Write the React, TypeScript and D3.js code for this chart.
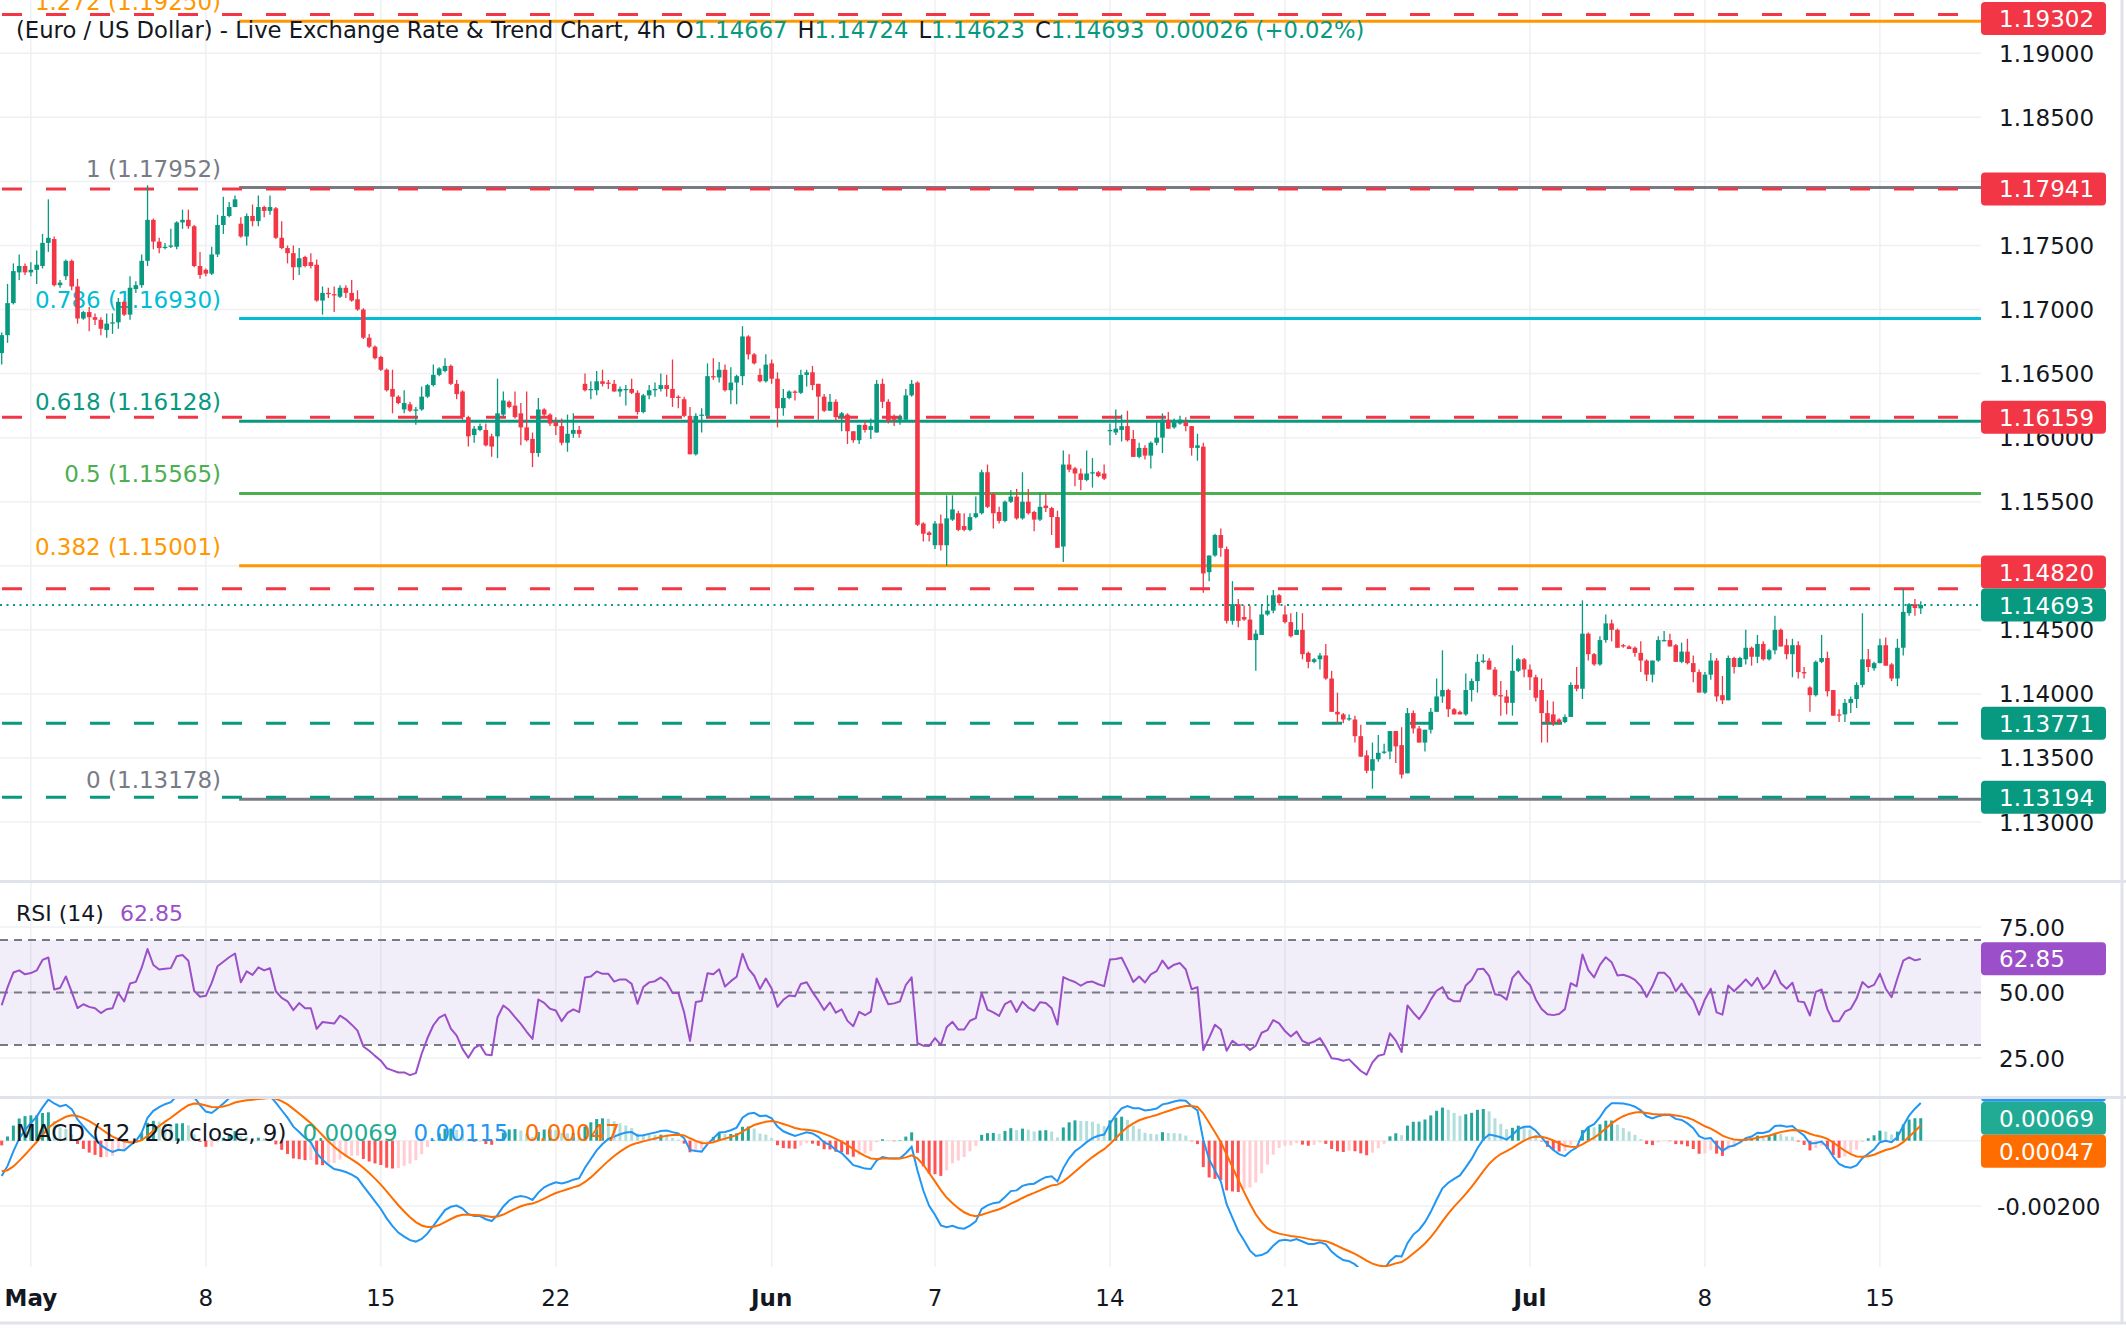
import React from 'react';
import * as d3 from 'd3';

type Bar = [number, number, number, number]; // open, high, low, close

// 4h candles, split by month (first five bars are the end of April)
const candlesMay: Bar[] = [
  [1.1666,1.1682,1.1657,1.1680],[1.1680,1.1720,1.1674,1.1705],[1.1705,1.1736,1.1704,1.1730],[1.1729,1.1743,1.1723,1.1734],
  [1.1734,1.1736,1.1727,1.1729],[1.1729,1.1737,1.1726,1.1731],[1.1731,1.1746,1.1720,1.1735],[1.1734,1.1759,1.1732,1.1752],
  [1.1752,1.1786,1.1745,1.1756],[1.1755,1.1757,1.1718,1.1719],[1.1719,1.1723,1.1717,1.1721],[1.1726,1.1739,1.1723,1.1738],
  [1.1738,1.1739,1.1715,1.1718],[1.1718,1.1724,1.1689,1.1693],[1.1693,1.1699,1.1692,1.1698],[1.1698,1.1702,1.1683,1.1694],
  [1.1694,1.1697,1.1688,1.1692],[1.1692,1.1694,1.1680,1.1685],[1.1684,1.1697,1.1678,1.1689],[1.1689,1.1697,1.1681,1.1690],
  [1.1690,1.1709,1.1685,1.1706],[1.1706,1.1707,1.1695,1.1696],[1.1696,1.1726,1.1692,1.1717],[1.1716,1.1722,1.1713,1.1719],
  [1.1719,1.1743,1.1717,1.1738],[1.1738,1.1797,1.1734,1.1770],[1.1770,1.1771,1.1747,1.1753],[1.1753,1.1756,1.1744,1.1748],
  [1.1748,1.1752,1.1747,1.1749],[1.1749,1.1763,1.1748,1.1750],[1.1749,1.1769,1.1747,1.1768],[1.1768,1.1778,1.1763,1.1770],
  [1.1770,1.1778,1.1763,1.1765],[1.1765,1.1766,1.1733,1.1734],[1.1734,1.1745,1.1724,1.1727],[1.1731,1.1732,1.1726,1.1728],
  [1.1728,1.1749,1.1727,1.1743],[1.1743,1.1774,1.1741,1.1766],[1.1766,1.1788,1.1759,1.1773],[1.1773,1.1784,1.1772,1.1780],
  [1.1780,1.1789,1.1780,1.1786],[1.1767,1.1772,1.1756,1.1757],[1.1757,1.1775,1.1750,1.1773],[1.1773,1.1782,1.1765,1.1769],
  [1.1769,1.1789,1.1765,1.1780],[1.1780,1.1781,1.1772,1.1777],[1.1777,1.1789,1.1774,1.1780],[1.1779,1.1780,1.1755,1.1756],
  [1.1756,1.1769,1.1747,1.1748],[1.1748,1.1750,1.1736,1.1744],[1.1744,1.1750,1.1723,1.1733],[1.1733,1.1748,1.1727,1.1740],
  [1.1741,1.1742,1.1733,1.1734],[1.1737,1.1744,1.1732,1.1734],[1.1735,1.1739,1.1706,1.1707],[1.1707,1.1718,1.1696,1.1713],
  [1.1713,1.1717,1.1709,1.1712],[1.1712,1.1718,1.1698,1.1711],[1.1710,1.1719,1.1709,1.1717],[1.1717,1.1719,1.1709,1.1713],
  [1.1713,1.1723,1.1706,1.1707],[1.1708,1.1715,1.1699,1.1700],[1.1700,1.1701,1.1677,1.1678],[1.1678,1.1681,1.1670,1.1671],
  [1.1671,1.1672,1.1661,1.1662],[1.1663,1.1664,1.1652,1.1653],[1.1653,1.1654,1.1636,1.1637],[1.1638,1.1653,1.1619,1.1632],
  [1.1632,1.1633,1.1626,1.1627],[1.1622,1.1637,1.1619,1.1627],[1.1626,1.1628,1.1620,1.1621],[1.1621,1.1624,1.1610,1.1622],
  [1.1622,1.1640,1.1621,1.1632],[1.1632,1.1642,1.1631,1.1641],[1.1641,1.1657,1.1640,1.1649],[1.1649,1.1655,1.1648,1.1654],
  [1.1652,1.1662,1.1651,1.1656],[1.1656,1.1657,1.1641,1.1642],[1.1642,1.1645,1.1630,1.1634],[1.1636,1.1637,1.1614,1.1616],
  [1.1616,1.1617,1.1593,1.1601],[1.1602,1.1609,1.1596,1.1607],[1.1606,1.1611,1.1605,1.1609],[1.1606,1.1611,1.1593,1.1594],
  [1.1601,1.1603,1.1585,1.1593],[1.1601,1.1646,1.1584,1.1619],[1.1618,1.1636,1.1616,1.1629],[1.1628,1.1629,1.1623,1.1624],
  [1.1625,1.1636,1.1615,1.1616],[1.1619,1.1627,1.1594,1.1608],[1.1608,1.1636,1.1597,1.1598],[1.1599,1.1604,1.1577,1.1588],
  [1.1588,1.1631,1.1585,1.1622],[1.1622,1.1623,1.1616,1.1618],[1.1618,1.1619,1.1609,1.1611],[1.1612,1.1616,1.1602,1.1609],
  [1.1609,1.1615,1.1594,1.1596],[1.1596,1.1618,1.1589,1.1603],[1.1603,1.1619,1.1600,1.1606],[1.1606,1.1609,1.1600,1.1603],
  [1.1642,1.1650,1.1636,1.1637],[1.1637,1.1644,1.1630,1.1638],[1.1637,1.1652,1.1633,1.1644],[1.1644,1.1653,1.1640,1.1642],
  [1.1643,1.1645,1.1638,1.1642],[1.1642,1.1645,1.1636,1.1636],[1.1636,1.1640,1.1632,1.1638],[1.1637,1.1641,1.1625,1.1638],
  [1.1638,1.1646,1.1634,1.1635],[1.1635,1.1637,1.1618,1.1620],[1.1620,1.1634,1.1619,1.1633],[1.1633,1.1641,1.1630,1.1637],
  [1.1637,1.1643,1.1632,1.1638],[1.1638,1.1650,1.1636,1.1641],[1.1641,1.1649,1.1632,1.1638],[1.1638,1.1661,1.1624,1.1631],
  [1.1632,1.1633,1.1623,1.1631],[1.1630,1.1632,1.1616,1.1617],[1.1617,1.1624,1.1587,1.1587],[1.1587,1.1619,1.1586,1.1617],
  [1.1617,1.1623,1.1604,1.1618],[1.1617,1.1658,1.1615,1.1648],[1.1648,1.1662,1.1645,1.1647],[1.1647,1.1659,1.1643,1.1653],
  [1.1653,1.1657,1.1636,1.1637],[1.1637,1.1655,1.1626,1.1643],[1.1643,1.1649,1.1626,1.1648],[1.1648,1.1687,1.1641,1.1679],
  [1.1679,1.1680,1.1661,1.1665],[1.1665,1.1666,1.1657,1.1658],[1.1649,1.1654,1.1643,1.1644],[1.1644,1.1665,1.1643,1.1657],
];

const candlesJun: Bar[] = [
  [1.1658,1.1661,1.1642,1.1646],[1.1646,1.1651,1.1608,1.1623],[1.1623,1.1638,1.1617,1.1631],[1.1631,1.1637,1.1630,1.1636],
  [1.1636,1.1637,1.1629,1.1635],[1.1635,1.1653,1.1634,1.1649],[1.1649,1.1653,1.1640,1.1651],[1.1651,1.1656,1.1637,1.1641],
  [1.1642,1.1642,1.1614,1.1632],[1.1632,1.1634,1.1620,1.1621],[1.1621,1.1634,1.1621,1.1628],[1.1628,1.1630,1.1613,1.1616],
  [1.1616,1.1620,1.1605,1.1619],[1.1618,1.1619,1.1595,1.1605],[1.1605,1.1605,1.1596,1.1598],[1.1598,1.1610,1.1595,1.1610],
  [1.1610,1.1613,1.1604,1.1606],[1.1606,1.1615,1.1599,1.1609],[1.1604,1.1645,1.1604,1.1642],[1.1642,1.1646,1.1623,1.1628],
  [1.1628,1.1630,1.1611,1.1613],[1.1616,1.1618,1.1609,1.1614],[1.1614,1.1618,1.1610,1.1616],[1.1614,1.1638,1.1614,1.1633],
  [1.1633,1.1645,1.1632,1.1642],[1.1643,1.1644,1.1531,1.1532],[1.1533,1.1534,1.1519,1.1525],[1.1526,1.1527,1.1519,1.1524],
  [1.1516,1.1535,1.1513,1.1533],[1.1533,1.1540,1.1512,1.1516],[1.1516,1.1555,1.1500,1.1537],[1.1536,1.1555,1.1535,1.1544],
  [1.1541,1.1543,1.1527,1.1528],[1.1531,1.1541,1.1527,1.1528],[1.1528,1.1541,1.1527,1.1538],[1.1538,1.1554,1.1537,1.1541],
  [1.1541,1.1575,1.1540,1.1573],[1.1573,1.1579,1.1545,1.1546],[1.1556,1.1557,1.1529,1.1541],[1.1542,1.1546,1.1533,1.1535],
  [1.1535,1.1551,1.1534,1.1550],[1.1550,1.1559,1.1549,1.1554],[1.1554,1.1560,1.1536,1.1537],[1.1537,1.1573,1.1536,1.1550],
  [1.1550,1.1560,1.1540,1.1541],[1.1542,1.1543,1.1527,1.1536],[1.1536,1.1557,1.1535,1.1546],[1.1547,1.1556,1.1542,1.1545],
  [1.1545,1.1546,1.1524,1.1538],[1.1538,1.1543,1.1514,1.1514],[1.1515,1.1590,1.1503,1.1579],[1.1579,1.1587,1.1573,1.1575],
  [1.1576,1.1577,1.1562,1.1572],[1.1572,1.1576,1.1559,1.1567],[1.1567,1.1590,1.1566,1.1572],[1.1572,1.1584,1.1561,1.1573],
  [1.1573,1.1574,1.1569,1.1570],[1.1572,1.1579,1.1567,1.1568],[1.1605,1.1611,1.1594,1.1606],[1.1604,1.1622,1.1602,1.1607],
  [1.1606,1.1618,1.1597,1.1609],[1.1609,1.1621,1.1597,1.1598],[1.1599,1.1606,1.1585,1.1585],[1.1585,1.1596,1.1584,1.1592],
  [1.1592,1.1594,1.1583,1.1586],[1.1586,1.1597,1.1576,1.1596],[1.1596,1.1613,1.1594,1.1600],[1.1600,1.1619,1.1588,1.1614],
  [1.1614,1.1620,1.1607,1.1607],[1.1608,1.1615,1.1607,1.1612],[1.1611,1.1617,1.1610,1.1614],[1.1612,1.1616,1.1605,1.1609],
  [1.1609,1.1609,1.1586,1.1592],[1.1592,1.1603,1.1582,1.1594],[1.1593,1.1596,1.1479,1.1494],[1.1495,1.1508,1.1488,1.1508],
  [1.1508,1.1525,1.1507,1.1524],[1.1524,1.1529,1.1507,1.1514],[1.1513,1.1515,1.1455,1.1457],[1.1457,1.1488,1.1454,1.1470],
  [1.1470,1.1474,1.1452,1.1457],[1.1460,1.1469,1.1457,1.1458],[1.1458,1.1469,1.1442,1.1442],[1.1442,1.1450,1.1418,1.1447],
  [1.1446,1.1469,1.1446,1.1462],[1.1462,1.1477,1.1461,1.1465],[1.1465,1.1481,1.1463,1.1477],[1.1477,1.1478,1.1469,1.1471],
  [1.1462,1.1469,1.1455,1.1456],[1.1456,1.1463,1.1444,1.1445],[1.1446,1.1464,1.1446,1.1450],[1.1450,1.1463,1.1427,1.1431],
  [1.1432,1.1433,1.1420,1.1425],[1.1425,1.1428,1.1424,1.1427],[1.1427,1.1432,1.1419,1.1430],[1.1430,1.1439,1.1411,1.1412],
  [1.1412,1.1418,1.1386,1.1386],[1.1386,1.1401,1.1377,1.1384],[1.1384,1.1385,1.1377,1.1380],[1.1380,1.1384,1.1379,1.1381],
  [1.1380,1.1383,1.1362,1.1367],[1.1367,1.1376,1.1351,1.1351],[1.1352,1.1356,1.1338,1.1340],[1.1340,1.1362,1.1326,1.1349],
  [1.1349,1.1368,1.1347,1.1354],[1.1354,1.1361,1.1353,1.1355],[1.1355,1.1371,1.1349,1.1371],[1.1371,1.1371,1.1346,1.1359],
  [1.1360,1.1374,1.1334,1.1337],[1.1338,1.1389,1.1338,1.1385],[1.1385,1.1387,1.1369,1.1373],[1.1373,1.1375,1.1362,1.1362],
  [1.1362,1.1372,1.1355,1.1372],[1.1372,1.1389,1.1369,1.1386],[1.1386,1.1412,1.1386,1.1398],[1.1398,1.1434,1.1393,1.1403],
  [1.1403,1.1404,1.1382,1.1388],[1.1388,1.1389,1.1384,1.1384],[1.1386,1.1387,1.1384,1.1384],[1.1384,1.1416,1.1383,1.1403],
  [1.1403,1.1412,1.1394,1.1410],[1.1410,1.1431,1.1401,1.1425],[1.1425,1.1431,1.1424,1.1426],[1.1426,1.1428,1.1419,1.1419],
  [1.1419,1.1421,1.1398,1.1399],[1.1399,1.1410,1.1383,1.1398],[1.1398,1.1403,1.1384,1.1393],[1.1393,1.1438,1.1383,1.1418],
  [1.1418,1.1428,1.1417,1.1427],[1.1427,1.1428,1.1413,1.1419],
];

const candlesJul: Bar[] = [
  [1.1419,1.1423,1.1403,1.1413],[1.1413,1.1415,1.1394,1.1397],[1.1403,1.1412,1.1362,1.1385],[1.1385,1.1395,1.1362,1.1378],
  [1.1384,1.1394,1.1375,1.1377],[1.1380,1.1381,1.1376,1.1378],[1.1378,1.1384,1.1377,1.1382],[1.1382,1.1409,1.1382,1.1407],
  [1.1407,1.1421,1.1402,1.1404],[1.1404,1.1473,1.1396,1.1447],[1.1447,1.1448,1.1426,1.1431],[1.1431,1.1432,1.1422,1.1423],
  [1.1423,1.1445,1.1422,1.1442],[1.1442,1.1462,1.1440,1.1455],[1.1455,1.1458,1.1441,1.1450],[1.1450,1.1451,1.1436,1.1436],
  [1.1438,1.1439,1.1436,1.1437],[1.1437,1.1438,1.1435,1.1435],[1.1436,1.1437,1.1429,1.1432],[1.1432,1.1441,1.1417,1.1426],
  [1.1426,1.1427,1.1410,1.1415],[1.1415,1.1426,1.1409,1.1426],[1.1426,1.1445,1.1425,1.1442],[1.1441,1.1449,1.1441,1.1442],
  [1.1442,1.1447,1.1437,1.1437],[1.1438,1.1439,1.1425,1.1425],[1.1425,1.1440,1.1424,1.1433],[1.1433,1.1443,1.1423,1.1424],
  [1.1424,1.1430,1.1409,1.1417],[1.1417,1.1419,1.1401,1.1401],[1.1401,1.1417,1.1400,1.1415],[1.1415,1.1432,1.1411,1.1426],
  [1.1426,1.1428,1.1394,1.1398],[1.1399,1.1414,1.1392,1.1395],[1.1395,1.1430,1.1395,1.1428],[1.1428,1.1429,1.1416,1.1421],
  [1.1421,1.1429,1.1421,1.1428],[1.1427,1.1450,1.1423,1.1436],[1.1436,1.1437,1.1422,1.1429],[1.1429,1.1446,1.1424,1.1439],
  [1.1439,1.1441,1.1426,1.1427],[1.1427,1.1435,1.1426,1.1434],[1.1434,1.1461,1.1431,1.1450],[1.1450,1.1451,1.1437,1.1437],
  [1.1438,1.1443,1.1427,1.1431],[1.1431,1.1443,1.1413,1.1438],[1.1438,1.1441,1.1412,1.1417],[1.1417,1.1421,1.1412,1.1416],
  [1.1405,1.1406,1.1386,1.1399],[1.1399,1.1426,1.1398,1.1425],[1.1425,1.1446,1.1424,1.1428],[1.1428,1.1433,1.1398,1.1402],
  [1.1403,1.1403,1.1383,1.1383],[1.1384,1.1388,1.1378,1.1383],[1.1384,1.1396,1.1378,1.1393],[1.1393,1.1398,1.1385,1.1396],
  [1.1396,1.1409,1.1389,1.1407],[1.1407,1.1463,1.1405,1.1427],[1.1427,1.1435,1.1417,1.1421],[1.1420,1.1425,1.1418,1.1424],
  [1.1424,1.1443,1.1424,1.1438],[1.1438,1.1444,1.1422,1.1422],[1.1423,1.1424,1.1410,1.1412],[1.1412,1.1443,1.1406,1.1436],
  [1.1436,1.1482,1.1430,1.1464],[1.1463,1.1471,1.1461,1.1470],[1.1470,1.1474,1.1461,1.1467],[1.14667,1.14724,1.14623,1.14693],
];

// date axis
const tickBars = [5, 35, 65, 95, 132, 160, 190, 220, 262, 292, 322];
const tickLabels = ['May', '8', '15', '22', 'Jun', '7', '14', '21', 'Jul', '8', '15'];
const monthLabels = ['May', 'Jun', 'Jul'];

// price axis
const priceTicks = [1.13, 1.135, 1.14, 1.145, 1.15, 1.155, 1.16, 1.165, 1.17, 1.175, 1.18, 1.185, 1.19];
const rsiTicks = [75, 50, 25];
const rsiLevels = [70, 50, 30];
const macdTicks = [-0.002];

// fibonacci retracement
const fibRatios = ['1.272', '1', '0.786', '0.618', '0.5', '0.382', '0'];
const fibPrices = [1.1925, 1.17952, 1.1693, 1.16128, 1.15565, 1.15001, 1.13178];
const fibStartBar = 40.7;

// horizontal levels
const resistanceLevels = [1.19302, 1.17941, 1.16159, 1.1482];
const supportLevels = [1.13771, 1.13194];

// legend values
const lastOHLC = ['1.14667', '1.14724', '1.14623', '1.14693'];
const lastChange = '0.00026 (+0.02%)';
const lastPrice = 1.14693;
const rsiLast = 62.85;
const macdLegend = [0.00069, 0.00115, 0.00047]; // histogram, macd, signal

// indicator state before the first visible bar
const priorClose = 1.1666;
const rsiSeed = { gain: 0.00055, loss: 0.0008 };
const macdSeed = { fast: 1.1676, slow: 1.1688, signal: -0.0009 };

const candles: Bar[] = [...candlesMay, ...candlesJun, ...candlesJul];

const UP = '#089981';
const DOWN = '#f23645';
const fibColors = ['#ff9800', '#787b86', '#00bcd4', '#089981', '#4caf50', '#ff9800', '#787b86'];
const FONT = '"DejaVu Sans", "Liberation Sans", sans-serif';
const INK = '#131722';
const GRID = '#eef0f3';
const RSI_C = '#9b4fc8';
const MACD_C = '#2196f3';
const SIG_C = '#ff6d00';
const HIST_C = '#22ab94';

function computeRsi(cl: number[]) {
  let g = rsiSeed.gain, l = rsiSeed.loss, p = priorClose;
  return cl.map(c => {
    const d = c - p;
    g = (g * 13 + Math.max(d, 0)) / 14;
    l = (l * 13 + Math.max(-d, 0)) / 14;
    p = c;
    return 100 - 100 / (1 + g / l);
  });
}

function computeMacd(cl: number[]) {
  const kf = 2 / 13, ks = 2 / 27, kg = 2 / 10;
  let f = macdSeed.fast, s = macdSeed.slow, sig = macdSeed.signal;
  const macd: number[] = [], signal: number[] = [], hist: number[] = [];
  cl.forEach(c => {
    f = c * kf + f * (1 - kf);
    s = c * ks + s * (1 - ks);
    const m = f - s;
    sig = m * kg + sig * (1 - kg);
    macd.push(m); signal.push(sig); hist.push(m - sig);
  });
  return { macd, signal, hist };
}

const PLOT_R = 1981;
const TAG_H = 33;

function Tag({ y, color, text }: { y: number; color: string; text: string }) {
  return (
    <g>
      <rect x={1981} y={y - TAG_H / 2} width={125} height={TAG_H} rx={4} fill={color} />
      <text x={1999} y={y + 8.5} fill="#fff" fontSize={23} fontFamily={FONT}>{text}</text>
    </g>
  );
}

export default function App() {
  const n = candles.length;
  const x = d3.scaleLinear().domain([0, n - 1]).range([1.7, 1.7 + (n - 1) * 5.833]);
  const yP = d3.scaleLinear().domain([1.13, 1.19]).range([822, 53.3]);
  const yR = d3.scaleLinear().domain([25, 75]).range([1058, 927]);
  const yM = d3.scaleLinear().domain([-0.002, 0]).range([1206, 1140.7]);

  const closes = candles.map(c => c[3]);
  const rsi = computeRsi(closes);
  const { macd, signal, hist } = computeMacd(closes);

  const rsiPath = d3.line<number>().x((_, i) => x(i)).y(d => yR(d))(rsi) || '';
  const macdPath = d3.line<number>().x((_, i) => x(i)).y(d => yM(d))(macd) || '';
  const sigPath = d3.line<number>().x((_, i) => x(i)).y(d => yM(d))(signal) || '';

  const histColor = (i: number) => {
    const h = hist[i], p = i > 0 ? hist[i - 1] : h;
    if (h >= 0) return h >= p ? '#26a69a' : '#b2dfdb';
    return h <= p ? '#ff5252' : '#ffcdd2';
  };

  const bw = 4.6;
  const fibX0 = x(fibStartBar);

  // price axis tags, pushed apart from the last-price tag when they overlap
  const lastY = yP(lastPrice);
  const levelTags = [
    ...resistanceLevels.map(p => ({ p, color: DOWN })),
    ...supportLevels.map(p => ({ p, color: UP })),
  ].map(t => {
    let y = yP(t.p);
    if (Math.abs(y - lastY) < TAG_H) y = y < lastY ? lastY - TAG_H : lastY + TAG_H;
    y = Math.max(y, 2 + TAG_H / 2);
    return { ...t, y };
  });
  const tagCenters = [lastY, ...levelTags.map(t => t.y)];
  // axis labels that sit fully under a tag are not drawn (hidden in the original too)
  const visibleTicks = priceTicks.filter(p => tagCenters.every(c => Math.abs(c - yP(p)) > 14));

  const histY = yM(macdLegend[0]);
  const macdTagY = Math.min(yM(macdLegend[1]), histY - TAG_H);
  const sigTagY = Math.max(yM(macdLegend[2]), histY + TAG_H);

  return (
    <svg width={2126} height={1344} style={{ position: 'absolute', left: 0, top: 0, background: '#fff' }} fontFamily={FONT}>
      <defs>
        <clipPath id="mainClip"><rect x={0} y={0} width={PLOT_R} height={880} /></clipPath>
        <clipPath id="rsiClip"><rect x={0} y={883} width={PLOT_R} height={213} /></clipPath>
        <clipPath id="macdClip"><rect x={0} y={1099} width={PLOT_R} height={168} /></clipPath>
        <clipPath id="macdAxisClip"><rect x={1960} y={1099} width={166} height={224} /></clipPath>
      </defs>
      <rect x={0} y={0} width={2126} height={1344} fill="#fff" />

      {/* grid */}
      {tickBars.map((b, i) => (
        <line key={'vg' + i} x1={x(b)} x2={x(b)} y1={0} y2={1267} stroke={GRID} strokeWidth={1.5} />
      ))}
      {priceTicks.map(p => (
        <line key={'hg' + p} x1={0} x2={PLOT_R} y1={yP(p)} y2={yP(p)} stroke={GRID} strokeWidth={1.5} />
      ))}
      {rsiTicks.map(v => (
        <line key={'rg' + v} x1={0} x2={PLOT_R} y1={yR(v)} y2={yR(v)} stroke={GRID} strokeWidth={1.5} />
      ))}
      {[0, ...macdTicks].map(v => (
        <line key={'mg' + v} x1={0} x2={PLOT_R} y1={yM(v)} y2={yM(v)} stroke={GRID} strokeWidth={1.5} />
      ))}

      {/* main pane drawings */}
      <g clipPath="url(#mainClip)">
        {fibPrices.map((p, i) => (
          <g key={'fib' + i}>
            <line x1={fibX0} x2={PLOT_R} y1={yP(p)} y2={yP(p)} stroke={fibColors[i]} strokeWidth={3} />
            <text x={fibX0 - 18} y={yP(p) - 11} textAnchor="end" fontSize={23} fill={fibColors[i]}>
              {`${fibRatios[i]} (${p.toFixed(5)})`}
            </text>
          </g>
        ))}
        {resistanceLevels.map(p => (
          <line key={'rl' + p} x1={2} x2={1960} y1={yP(p)} y2={yP(p)} stroke={DOWN} strokeWidth={3} strokeDasharray="20 24" />
        ))}
        {supportLevels.map(p => (
          <line key={'sl' + p} x1={2} x2={1960} y1={yP(p)} y2={yP(p)} stroke={UP} strokeWidth={3} strokeDasharray="20 24" />
        ))}
        <line x1={0} x2={PLOT_R} y1={lastY} y2={lastY} stroke={UP} strokeWidth={2} strokeDasharray="2 4.5" />

        {candles.map((c, i) => {
          const [o, h, l, cl] = c;
          const col = cl >= o ? UP : DOWN;
          const top = yP(Math.max(o, cl));
          const bh = Math.max(1.2, Math.abs(yP(o) - yP(cl)));
          return (
            <g key={'c' + i}>
              <line x1={x(i)} x2={x(i)} y1={yP(h)} y2={yP(l)} stroke={col} strokeWidth={1.3} />
              <rect x={x(i) - bw / 2} y={top} width={bw} height={bh} fill={col} />
            </g>
          );
        })}
      </g>

      {/* header legend */}
      <text x={16} y={38} fontSize={22.7} fill={INK}>
        <tspan>(Euro / US Dollar) - Live Exchange Rate &amp; Trend Chart, 4h</tspan>
        <tspan dx={10}>O</tspan><tspan fill={UP}>{lastOHLC[0]}</tspan>
        <tspan dx={10}>H</tspan><tspan fill={UP}>{lastOHLC[1]}</tspan>
        <tspan dx={10}>L</tspan><tspan fill={UP}>{lastOHLC[2]}</tspan>
        <tspan dx={10}>C</tspan><tspan fill={UP}>{lastOHLC[3]}</tspan>
        <tspan dx={10} fill={UP}>{lastChange}</tspan>
      </text>

      {/* price axis */}
      {visibleTicks.map(p => (
        <text key={'pt' + p} x={1999} y={yP(p) + 8.5} fontSize={23} fill={INK}>{p.toFixed(5)}</text>
      ))}
      {levelTags.map(t => (
        <Tag key={'tag' + t.p} y={t.y} color={t.color} text={t.p.toFixed(5)} />
      ))}
      <Tag y={lastY} color={UP} text={lastPrice.toFixed(5)} />

      {/* pane separators */}
      <line x1={0} x2={2126} y1={881.5} y2={881.5} stroke="#e0e3eb" strokeWidth={3} />
      <line x1={0} x2={2126} y1={1097.5} y2={1097.5} stroke="#e0e3eb" strokeWidth={3} />

      {/* RSI pane */}
      <rect x={0} y={yR(70)} width={PLOT_R} height={yR(30) - yR(70)} fill="rgba(126,87,194,0.1)" />
      {rsiLevels.map(v => (
        <line key={'rl' + v} x1={0} x2={PLOT_R} y1={yR(v)} y2={yR(v)} stroke="#787b86" strokeWidth={2} strokeDasharray="8 6" />
      ))}
      <g clipPath="url(#rsiClip)">
        <path d={rsiPath} fill="none" stroke={RSI_C} strokeWidth={2} strokeLinejoin="round" />
      </g>
      <text x={16} y={921} fontSize={22} fill={INK}>
        RSI (14)<tspan dx={16} fill={RSI_C}>{rsiLast.toFixed(2)}</tspan>
      </text>
      {rsiTicks.map(v => (
        <text key={'rt' + v} x={1999} y={yR(v) + 8.5} fontSize={23} fill={INK}>{v.toFixed(2)}</text>
      ))}
      <Tag y={yR(rsiLast)} color={RSI_C} text={rsiLast.toFixed(2)} />

      {/* MACD pane */}
      <g clipPath="url(#macdClip)">
        {hist.map((h, i) => (
          <rect key={'h' + i} x={x(i) - 1.5} width={3} y={Math.min(yM(h), yM(0))}
            height={Math.max(0.5, Math.abs(yM(h) - yM(0)))} fill={histColor(i)} />
        ))}
        <path d={macdPath} fill="none" stroke={MACD_C} strokeWidth={2} />
        <path d={sigPath} fill="none" stroke={SIG_C} strokeWidth={2} />
      </g>
      <text x={16} y={1141} fontSize={23} fill={INK}>
        MACD (12, 26, close, 9)
        <tspan dx={16} fill={HIST_C}>{macdLegend[0].toFixed(5)}</tspan>
        <tspan dx={16} fill={MACD_C}>{macdLegend[1].toFixed(5)}</tspan>
        <tspan dx={16} fill={SIG_C}>{macdLegend[2].toFixed(5)}</tspan>
      </text>
      {macdTicks.map(v => (
        <text key={'mt' + v} x={1997} y={yM(v) + 8.5} fontSize={23} fill={INK}>{v.toFixed(5)}</text>
      ))}
      <g clipPath="url(#macdAxisClip)">
        <Tag y={macdTagY} color={MACD_C} text={macdLegend[1].toFixed(5)} />
        <Tag y={histY} color={HIST_C} text={macdLegend[0].toFixed(5)} />
        <Tag y={sigTagY} color={SIG_C} text={macdLegend[2].toFixed(5)} />
      </g>

      {/* time axis */}
      {tickBars.map((b, i) => (
        <text key={'xt' + i} x={x(b)} y={1306} textAnchor="middle" fontSize={23} fill={INK}
          fontWeight={monthLabels.includes(tickLabels[i]) ? 700 : 400}>{tickLabels[i]}</text>
      ))}
      <line x1={0} x2={2126} y1={1323} y2={1323} stroke="#e0e3eb" strokeWidth={3} />
      <line x1={2122} x2={2122} y1={0} y2={1323} stroke="#e0e3eb" strokeWidth={3} />
    </svg>
  );
}
